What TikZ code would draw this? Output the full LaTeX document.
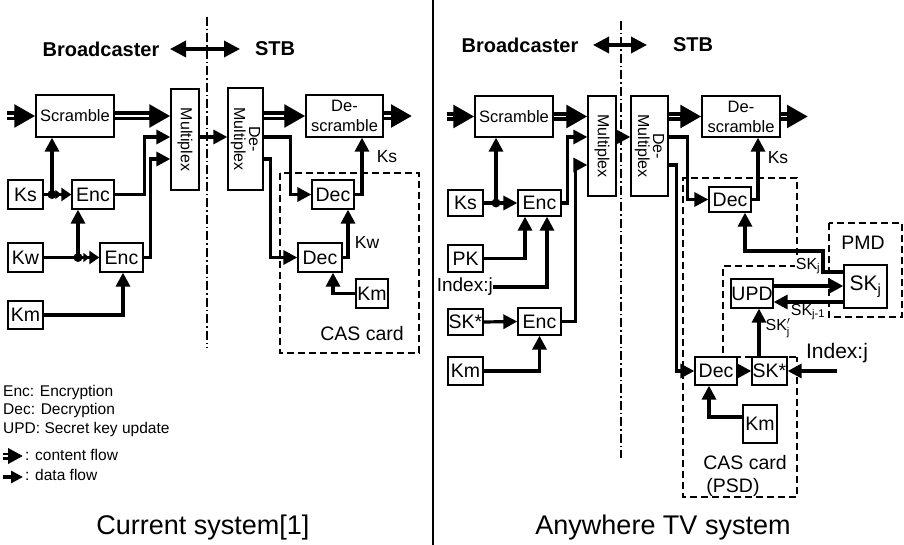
\documentclass[tikz,border=0pt]{standalone}
\usepackage{fontspec}
\setmainfont{Liberation Sans}
\usetikzlibrary{arrows.meta,calc}
\newcommand\fsz[1]{\fontsize{#1}{#1}\selectfont}
\begin{document}
\begin{tikzpicture}[x=1pt,y=-1pt,
  box/.style={draw,line width=1.3pt,inner sep=0pt,fill=white,font=\fsz{19.5}},
  wh/.style 2 args={minimum width=#1pt,minimum height=#2pt},
  lbl/.style={inner sep=0pt,font=\fsz{17.5}},
  dl/.style={line width=3.2pt,line join=miter,-{Triangle[length=14pt,width=14pt]}},
  dlw/.style={line width=3.2pt,line join=miter,-{Triangle[length=6pt,width=9pt]Triangle[length=10pt,width=13pt]}},
  cf/.style={line width=9pt,-{Triangle[length=21pt,width=22pt]},
    postaction={draw=white,line width=1.8pt,-,shorten >=21pt}},
  cfs/.style={line width=7pt,-{Triangle[length=15pt,width=15pt]},
    postaction={draw=white,line width=1.4pt,-,shorten >=15pt}},
  hdr/.style={line width=3.5pt,{Triangle[length=16pt,width=16pt]}-{Triangle[length=16pt,width=16pt]}},
  dashdot/.style={line width=2pt,dash pattern=on 9pt off 3pt on 1.5pt off 3pt},
  dsh/.style={line width=2.2pt,dash pattern=on 7pt off 4pt},
  dot/.style={circle,fill,inner sep=0pt,minimum size=9pt}]

\useasboundingbox (0,0) rectangle (904,545);

% panel separator
\coordinate (sepT) at (433,0);
\coordinate (sepB) at (433,545);
\draw[line width=1.6pt] (sepT) -- (sepB);

% helper rails
\coordinate (y137) at (0,137);
\coordinate (y159) at (0,159);
\coordinate (y165) at (0,165);
\coordinate (y272) at (0,272);
\coordinate (y286) at (0,286);
\coordinate (y302) at (0,302);
\coordinate (y417) at (0,417);

% ================= left: current system =================
\node[font=\bfseries\fsz{20}] (bcL) at (101,49) {Broadcaster};
\node[font=\bfseries\fsz{20}] (stbL) at (275,49) {STB};
\coordinate (haL) at (170,49);
\coordinate (hbL) at (240,49);
\draw[hdr] (haL) -- (hbL);
\coordinate (ddLt) at (207,17);
\coordinate (ddLb) at (207,348);
\draw[dashdot] (ddLt) -- (ddLb);

\draw[dsh] (280,173) rectangle (419,353);
\node[lbl,font=\fsz{19.5}] (casL) at (362,334) {CAS card};

\node[box,wh={78}{42},font=\fsz{16.5}] (scrL) at (75,116) {Scramble};
\node[box,wh={28}{101}] (muxL) at (185,139.5) {};
\node[rotate=-90,inner sep=0pt,font=\fsz{16}] (muxLt) at (muxL) {Multiplex};
\node[box,wh={35}{102}] (dmxL) at (245.5,139) {};
\node[rotate=-90,inner sep=0pt,align=center,font=\fontsize{16}{15}\selectfont] (dmxLt) at (dmxL) {De-\\Multiplex};
\node[box,wh={77}{42},align=center,font=\fontsize{16.5}{20}\selectfont] (dscL) at (344.5,116) {De-\\scramble};
\node[box,wh={42}{29}] (dec1L) at (333,194.5) {Dec};
\node[box,wh={44}{29}] (dec2L) at (320,257.5) {Dec};
\node[box,wh={32}{29}] (kmcL) at (372,293.5) {Km};
\node[box,wh={35}{29}] (ksL) at (25.5,194.5) {Ks};
\node[box,wh={42}{29}] (enc1L) at (93,194.5) {Enc};
\node[box,wh={35}{29}] (kwL) at (25.5,257.5) {Kw};
\node[box,wh={43}{29}] (enc2L) at (121.5,257.5) {Enc};
\node[box,wh={35}{28}] (kmL) at (25.5,315) {Km};

% content flow
\coordinate (inL) at (7,116);
\coordinate (outL) at (412,116);
\draw[cf] (inL) -- (scrL.west);
\draw[cf] (scrL.east) -- (scrL -| muxL.west);
\draw[cf] (dscL -| dmxL.east) -- (dscL.west);
\draw[cf] (dscL.east) -- (outL);

% data flow, broadcaster side
\draw[dl] (muxL.east |- y137) -- (dmxL.west |- y137);
\node[dot] (jKs) at (52,194.5) {};
\draw[dlw] (ksL.east) -- (enc1L.west);
\draw[dl] (jKs.center) -- (jKs |- scrL.south);
\node[dot] (jKw) at (78,257.5) {};
\draw[dlw] (kwL.east) -- (enc2L.west);
\draw[dl] (jKw.center) -- (jKw |- enc1L.south);
\draw[dl] (enc1L.east) -- ++(30,0) |- (muxL.west |- y137);
\draw[dl] (enc2L.east) -- ++(7,0) |- (muxL.west |- y159);
\draw[dl] (kmL.east) -| ($(enc2L.south)+(1.5,0)$);

% data flow, receiver side
\draw[dl] (dmxL.east |- y137) -- ++(27,0) |- (dec1L.west);
\draw[dl] (dmxL.east |- y159) -- ++(7,0) |- (dec2L.west);
\draw[dl] (dec1L.east) -| ($(dscL.south)+(17.5,0)$);
\draw[dl] (dec2L.east) -| ($(dec1L.south)+(15,0)$);
\draw[dl] (kmcL.west) -| ($(dec2L.south)+(13,0)$);
\node[lbl] (ksLl) at (387,157) {Ks};
\node[lbl] (kwLl) at (367,242) {Kw};

% legend
\node[anchor=west,inner sep=0pt,font=\fsz{15.5}] (lg1) at (3,392) {Enc: Encryption};
\node[anchor=west,inner sep=0pt,font=\fsz{15.5}] (lg2) at (3,410.5) {Dec: Decryption};
\node[anchor=west,inner sep=0pt,font=\fsz{15.5}] (lg3) at (3,429) {UPD: Secret key update};
\coordinate (lgca) at (3,456);
\coordinate (lgcb) at (23,456);
\draw[cfs] (lgca) -- (lgcb);
\node[anchor=west,inner sep=0pt,font=\fsz{15.5}] (lg4) at (25,455) {: content flow};
\coordinate (lgda) at (3,477);
\coordinate (lgdb) at (23,477);
\draw[line width=3.2pt,-{Triangle[length=12pt,width=12pt]}] (lgda) -- (lgdb);
\node[anchor=west,inner sep=0pt,font=\fsz{15.5}] (lg5) at (25,475) {: data flow};

\node[inner sep=0pt,font=\fsz{27}] (ttlL) at (203,528) {Current system[1]};

% ================= right: anywhere TV system =================
\node[font=\bfseries\fsz{20}] (bcR) at (520,45) {Broadcaster};
\node[font=\bfseries\fsz{20}] (stbR) at (693,45) {STB};
\coordinate (haR) at (593,45);
\coordinate (hbR) at (647,45);
\draw[hdr] (haR) -- (hbR);
\coordinate (ddRt) at (621,21);
\coordinate (ddRb) at (621,458);
\draw[dashdot] (ddRt) -- (ddRb);

% CAS card (PSD) outline and the update area
\draw[dsh] (797,266) -- (797,178) -- (683,178) -- (683,497) -- (797,497) -- (797,357);
\draw[dsh] (797,266) -- (723,266) -- (723,357) -- (797,357);
\draw[dsh] (829,223) rectangle (902,317);
\node[lbl,font=\fsz{19.5}] (pmd) at (863,243) {PMD};
\node[lbl,font=\fsz{19.5}] (casR) at (745,463) {CAS card};
\node[lbl,font=\fsz{19.5}] (psd) at (733,487) {(PSD)};

\node[box,wh={78}{41},font=\fsz{16.5}] (scrR) at (514,116.5) {Scramble};
\node[box,wh={28}{100}] (muxR) at (602,146) {};
\node[rotate=-90,inner sep=0pt,font=\fsz{16}] (muxRt) at (muxR) {Multiplex};
\node[box,wh={37}{100}] (dmxR) at (649.5,146) {};
\node[rotate=-90,inner sep=0pt,align=center,font=\fontsize{16}{15}\selectfont] (dmxRt) at (dmxR) {De-\\Multiplex};
\node[box,wh={78}{41},align=center,font=\fontsize{16.5}{20}\selectfont] (dscR) at (741,116.5) {De-\\scramble};

\node[box,wh={35}{26}] (ksR) at (465.5,203) {Ks};
\node[box,wh={43}{26}] (enc1R) at (539.5,203) {Enc};
\node[box,wh={35}{27}] (pkR) at (465.5,258.5) {PK};
\node[anchor=east,inner sep=0pt,font=\fsz{19}] (idxR1) at (493,287) {Index:j};
\node[box,wh={35}{26}] (skaR) at (465.5,322) {SK*};
\node[box,wh={43}{27}] (enc2R) at (539.5,321.5) {Enc};
\node[box,wh={35}{28}] (kmR) at (465.5,371) {Km};

\node[box,wh={42}{25}] (dec1R) at (730,199.5) {Dec};
\node[box,wh={43}{43},font=\fsz{21}] (skjR) at (865.5,286.5) {SK\textsubscript{j}};
\node[box,wh={42}{29}] (updR) at (752,293.5) {UPD};
\node[box,wh={42}{28}] (dec3R) at (716,371) {Dec};
\node[box,wh={35}{28}] (skbR) at (769.5,371) {SK*};
\node[box,wh={34}{38}] (kmcR) at (760,424) {Km};
\node[inner sep=0pt,font=\fsz{21}] (idxR2) at (837,353) {Index:j};

% content flow
\coordinate (inR) at (447,116.5);
\coordinate (outR) at (808,116.5);
\draw[cf] (inR) -- (scrR.west);
\draw[cf] (scrR.east) -- (scrR -| muxR.west);
\draw[cf] (dscR -| dmxR.east) -- (dscR.west);
\draw[cf] (dscR.east) -- (outR);

% data flow, broadcaster side
\draw[dl] (muxR.east |- y137) -- (dmxR.west |- y137);
\node[dot] (jKsR) at (496,203) {};
\draw[dl] (ksR.east) -- (enc1R.west);
\draw[dl] (jKsR.center) -- (jKsR |- scrR.south);
\draw[dl] (pkR.east) -| ($(enc1R.south)+(-14.5,0)$);
\draw[dl] (idxR1.east) -| ($(enc1R.south)+(7.5,0)$);
\draw[dl] (skaR.east) -- (enc2R.west);
\draw[dl] (kmR.east) -| (enc2R.south);
\draw[dl] (enc1R.east) -- ++(6,0) |- (muxR.west |- y137);
\draw[dl] (enc2R.east) -- ++(14,0) |- (muxR.west |- y165);

% data flow, receiver side
\draw[dl] (dmxR.east |- y137) -- ++(19,0) |- (dec1R.west);
\draw[dl] (dmxR.east |- y165) -- ++(8,0) |- (dec3R.west);
\draw[dl] (dec1R.east) -| ($(dscR.south)+(17,0)$);
\node[lbl] (ksRl) at (778,158) {Ks};
\coordinate (bendA) at (823,272);
\coordinate (bendB) at (823,251);
\draw[dl] (skjR.west |- y272) -- (bendA) -- (bendB) -| ($(dec1R.south)+(15,0)$);
\draw[dl,line width=4.2pt] (updR.east |- y286) -- (skjR.west |- y286);
\draw[dl] (skjR.west |- y302) -- (updR.east |- y302);
\draw[dl] (dec3R.east) -- (skbR.west);
\coordinate (idxS) at (837,371);
\draw[dl] (idxS) -- (skbR.east);
\draw[dl] ($(skbR.north)+(-10.5,0)$) -- ($(updR.south)+(7,0)$);
\draw[dl] (kmcR.west |- y417) -| ($(dec3R.south)+(-7,0)$);

\node[lbl,fill=white,inner sep=1pt,font=\fsz{16}] (skjl) at (808,266) {SK\textsubscript{j}};
\node[lbl,font=\fsz{16}] (skj1l) at (808,312) {SK\textsubscript{j-1}};
\node[lbl,font=\fsz{16}] (skjpl) at (778,328) {SK$_{\mathrm{j}}^{\prime}$};

\node[inner sep=0pt,font=\fsz{27}] (ttlR) at (663,528) {Anywhere TV system};
\end{tikzpicture}
\end{document}
